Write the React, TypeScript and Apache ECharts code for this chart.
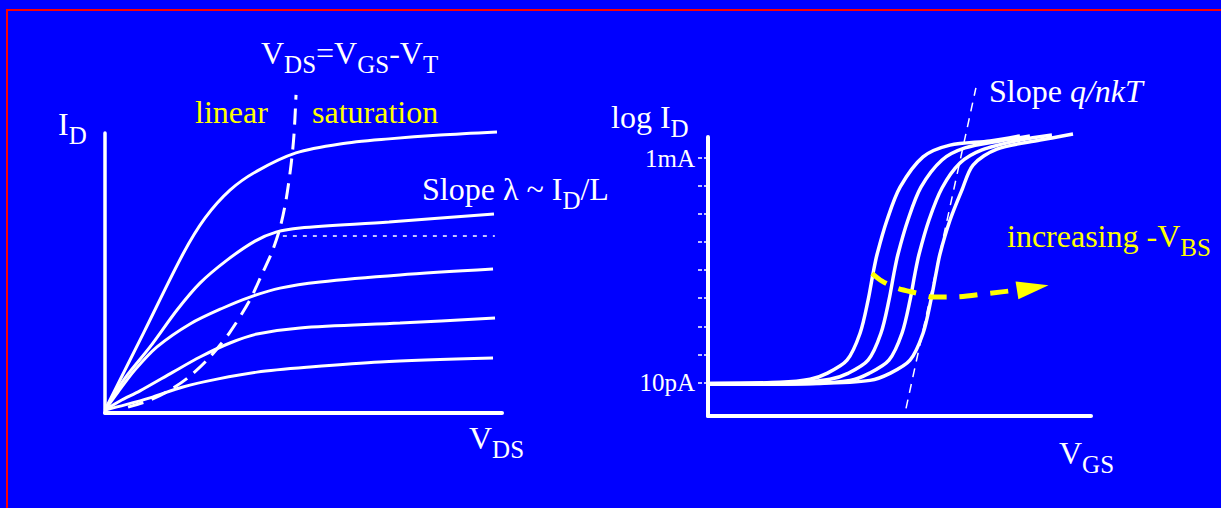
import React, { useEffect, useRef } from "react";
import * as echarts from "echarts";

const SERIF = '"Liberation Serif", "Times New Roman", serif';
const WHITE = "#ffffff";
const YELLOW = "#ffff00";

// ---------- Left panel: I_D vs V_DS (linear axes) ----------
const vdsRange = [0, 5];
const idRange = [0, 1];

const idCurve1: number[][] = [
  [0, 0.011], [0.491, 0.289], [0.982, 0.568], [1.259, 0.696], [1.574, 0.796], [1.914, 0.864],
  [2.405, 0.929], [2.96, 0.961], [3.577, 0.979], [4.22, 0.993], [4.937, 1.004],
];
const idCurve2: number[][] = [
  [0, 0.011], [0.252, 0.125], [0.567, 0.236], [0.907, 0.368], [1.196, 0.464], [1.537, 0.546],
  [1.889, 0.614], [2.154, 0.646], [2.456, 0.661], [3.577, 0.682], [4.899, 0.711],
];
const idCurve3: number[][] = [
  [0, 0.011], [0.164, 0.075], [0.378, 0.154], [0.655, 0.236], [1.071, 0.318], [1.486, 0.375],
  [1.826, 0.414], [2.204, 0.446], [2.708, 0.468], [3.715, 0.493], [4.887, 0.514],
];
const idCurve4: number[][] = [
  [0, 0.011], [0.189, 0.043], [0.441, 0.079], [0.856, 0.146], [1.196, 0.2], [1.574, 0.25],
  [1.914, 0.282], [2.456, 0.304], [3.715, 0.321], [4.912, 0.339],
];
const idCurve5: number[][] = [
  [0, 0.011], [0.252, 0.029], [0.567, 0.054], [0.982, 0.093], [1.411, 0.121], [1.914, 0.146],
  [2.582, 0.164], [3.463, 0.182], [4.887, 0.196],
];
// V_DS = V_GS - V_T boundary
const satBoundary: number[][] = [
  [0.29, 0.021], [0.567, 0.046], [0.819, 0.082], [1.071, 0.132], [1.322, 0.2], [1.574, 0.289],
  [1.826, 0.404], [1.977, 0.496], [2.103, 0.575], [2.204, 0.661], [2.28, 0.761], [2.343, 0.886],
  [2.38, 0.993], [2.406, 1.136],
];
const satLevelRef: number[][] = [[2.24, 0.632], [4.91, 0.632]];

// ---------- Right panel: log10(I_D) vs V_GS ----------
const vgsRange = [0, 2];
const logIdRange = [-12.2, -2.25];
const logTickValues = [-11, -10, -9, -8, -7, -6, -5, -4, -3];
const logLabelValues = [-11, -3];
const logLabelText: Record<string, string> = { "-11": "10pA", "-3": "1mA" };

const subCurveA: number[][] = [
  [0.01, -11.04], [0.376, -11.0], [0.533, -10.89], [0.621, -10.68], [0.726, -10.21], [0.794, -9.25],
  [0.836, -8.07], [0.862, -7.11], [0.883, -6.43], [0.935, -5.21], [1.003, -4.04], [1.123, -2.96],
  [1.264, -2.54], [1.473, -2.39], [1.629, -2.21],
];
const subCurveB: number[][] = [
  [0.01, -11.04], [0.48, -11.0], [0.637, -10.89], [0.731, -10.68], [0.836, -10.21], [0.903, -9.25],
  [0.945, -8.07], [0.971, -7.11], [0.992, -6.43], [1.044, -5.21], [1.112, -4.04], [1.222, -3.07],
  [1.342, -2.64], [1.525, -2.39], [1.681, -2.21],
];
const subCurveC: number[][] = [
  [0.01, -11.07], [0.533, -11.04], [0.742, -10.93], [0.841, -10.68], [0.945, -10.21], [1.013, -9.25],
  [1.055, -8.07], [1.081, -7.11], [1.102, -6.43], [1.154, -5.21], [1.222, -4.07], [1.316, -3.18],
  [1.431, -2.71], [1.629, -2.36], [1.796, -2.18],
];
const subCurveD: number[][] = [
  [0.01, -11.07], [0.585, -11.04], [0.846, -10.93], [0.95, -10.68], [1.055, -10.21], [1.123, -9.25],
  [1.164, -8.07], [1.191, -7.11], [1.211, -6.43], [1.264, -5.21], [1.326, -4.14], [1.384, -3.25],
  [1.509, -2.68], [1.734, -2.36], [1.906, -2.14],
];
const slopeLine: number[][] = [[1.034, -11.93], [1.399, -0.5]];
const vbsArrow: number[][] = [
  [0.856, -7.11], [0.909, -7.39], [0.987, -7.64], [1.091, -7.82], [1.175, -7.96], [1.279, -7.96],
  [1.473, -7.82], [1.614, -7.71],
];
const vbsArrowHead: number[][] = [[1.696, -7.63]];

const axisLineStyle = { color: WHITE, width: 4 };

function curve(data: number[][], xi: number, width: number, extra: any = {}) {
  return {
    type: "line",
    xAxisIndex: xi,
    yAxisIndex: xi,
    data,
    showSymbol: false,
    symbol: "none",
    smooth: 0.3,
    clip: false,
    silent: true,
    lineStyle: { color: WHITE, width, ...extra },
    z: 3,
  };
}

function richText(x: number, y: number, text: string, color: string, extraRich: any = {}) {
  return {
    type: "text",
    x,
    y,
    silent: true,
    style: {
      text,
      verticalAlign: "middle",
      align: "left",
      rich: {
        m: { fontSize: 32, fontFamily: SERIF, fill: color, lineHeight: 40 },
        s: { fontSize: 25, fontFamily: SERIF, fill: color, lineHeight: 40, padding: [23, 0, 0, 0] },
        ...extraRich,
      },
    },
  };
}

export default function App() {
  const ref = useRef<HTMLDivElement>(null);
  useEffect(() => {
    const chart = echarts.init(ref.current!, null, { renderer: "svg" });
    const option: any = {
      animation: false,
      backgroundColor: "#0000ff",
      grid: [
        { left: 105, top: 133, width: 397, height: 280 },
        { left: 708, top: 137, width: 383, height: 279 },
      ],
      xAxis: [
        {
          gridIndex: 0, type: "value", min: vdsRange[0], max: vdsRange[1],
          axisLine: { show: true, onZero: false, lineStyle: axisLineStyle },
          axisTick: { show: false }, axisLabel: { show: false }, splitLine: { show: false },
        },
        {
          gridIndex: 1, type: "value", min: vgsRange[0], max: vgsRange[1],
          axisLine: { show: true, onZero: false, lineStyle: axisLineStyle },
          axisTick: { show: false }, axisLabel: { show: false }, splitLine: { show: false },
        },
      ],
      yAxis: [
        {
          gridIndex: 0, type: "value", min: idRange[0], max: idRange[1],
          axisLine: { show: true, onZero: false, lineStyle: { color: WHITE, width: 3.5 } },
          axisTick: { show: false }, axisLabel: { show: false }, splitLine: { show: false },
        },
        {
          gridIndex: 1, type: "value", min: logIdRange[0], max: logIdRange[1],
          axisLine: { show: true, onZero: false, lineStyle: { color: WHITE, width: 4 } },
          axisTick: {
            show: true, length: 12, customValues: logTickValues,
            lineStyle: { color: WHITE, width: 1.5, type: [4, 2] },
          },
          axisLabel: {
            show: true, customValues: logLabelValues, margin: 13,
            color: WHITE, fontFamily: SERIF, fontSize: 25,
            formatter: (v: number) => logLabelText[String(v)] ?? "",
          },
          splitLine: { show: false },
        },
      ],
      series: [
        curve(idCurve1, 0, 3),
        curve(idCurve2, 0, 3),
        curve(idCurve3, 0, 3),
        curve(idCurve4, 0, 3),
        curve(idCurve5, 0, 3),
        { ...curve(satLevelRef, 0, 1.5, { type: [4, 6] }), smooth: false },
        { ...curve(satBoundary, 0, 3, { type: [16, 9] }), z: 4 },
        { ...curve(slopeLine, 1, 1.5, { type: [9, 7] }), smooth: false, z: 2 },
        curve(subCurveA, 1, 3.5),
        curve(subCurveB, 1, 3.5),
        curve(subCurveC, 1, 3.5),
        curve(subCurveD, 1, 3.5),
        { ...curve(vbsArrow, 1, 5, { type: [18, 13], color: YELLOW }), z: 5 },
        {
          type: "scatter", xAxisIndex: 1, yAxisIndex: 1, data: vbsArrowHead,
          symbol: "triangle", symbolSize: [18, 32], symbolRotate: -81,
          itemStyle: { color: YELLOW, opacity: 1 }, silent: true, z: 5, clip: false,
        },
      ],
      graphic: [
        {
          type: "rect", silent: true, z: -1,
          shape: { x: 7, y: 10, width: 1400, height: 700 },
          style: { fill: "none", stroke: "#ff0000", lineWidth: 2 },
        },
        richText(261, 53, "{m|V}{s|DS}{m|=V}{s|GS}{m|-V}{s|T}", WHITE),
        richText(195, 112, "{m|linear}", YELLOW),
        richText(312, 112, "{m|saturation}", YELLOW),
        richText(58, 124, "{m|I}{s|D}", WHITE),
        richText(422, 189, "{m|Slope λ ~ I}{s|D}{m|/L}", WHITE),
        richText(469, 438, "{m|V}{s|DS}", WHITE),
        richText(611, 117, "{m|log I}{s|D}", WHITE),
        richText(989, 91, "{m|Slope }{i|q/nkT}", WHITE, {
          i: { fontSize: 32, fontFamily: SERIF, fontStyle: "italic", fill: WHITE, lineHeight: 40 },
        }),
        richText(1007, 236, "{m|increasing -V}{s|BS}", YELLOW),
        richText(1059, 453, "{m|V}{s|GS}", WHITE),
      ],
    };
    chart.setOption(option);
    return () => chart.dispose();
  }, []);
  return (
    <div
      ref={ref}
      style={{ position: "fixed", left: 0, top: 0, width: 1221, height: 508 }}
    />
  );
}
